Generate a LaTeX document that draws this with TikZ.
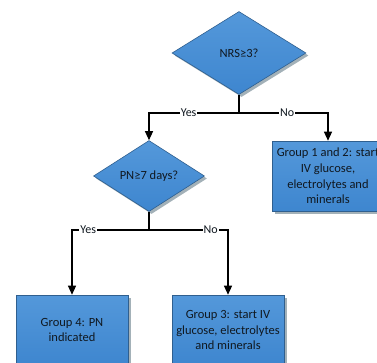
\documentclass[tikz,border=0pt]{standalone}
\usepackage{fontspec}
\setmainfont{Carlito}
\usetikzlibrary{shapes.geometric,arrows.meta,shadows}
\definecolor{boxtop}{HTML}{5498DA}
\definecolor{boxbot}{HTML}{3E86CF}
\definecolor{boxline}{HTML}{2F5F8F}
\definecolor{shad}{HTML}{A3B1B8}
\definecolor{txt}{HTML}{101820}
\tikzset{
  shapebase/.style={draw=boxline, line width=0.6pt, top color=boxtop, bottom color=boxbot,
    drop shadow={shadow xshift=2.5pt, shadow yshift=-2.5pt, fill=shad, opacity=1},
    font=\fontsize{12.5}{15.8}\selectfont, text=txt, inner sep=0pt, align=center},
  decision/.style={shapebase, diamond},
  groupbox/.style={shapebase, rectangle, minimum width=112pt, minimum height=70pt},
  arr/.style={line width=1.2pt, -{Triangle[length=9pt,width=8pt]}},
  conn/.style={line width=1.2pt},
  lbl/.style={fill=white, inner sep=1pt, text=txt, font=\fontsize{12}{13}\selectfont}
}
\begin{document}
\begin{tikzpicture}[x=1pt,y=-1pt]
\useasboundingbox (0,0) rectangle (377,362);
\node[decision, minimum width=134pt, minimum height=83pt] (d1) at (239,53) {NRS≥3?};
\node[decision, minimum width=111pt, minimum height=71pt] (d2) at (149,176) {PN≥7 days?};
\node[groupbox] (g12) at (328,176) {Group 1 and 2: start\\IV glucose,\\electrolytes and\\minerals};
\node[groupbox] (g4) at (72,330) {Group 4: PN\\indicated};
\node[groupbox] (g3) at (228,330) {Group 3: start IV\\glucose, electrolytes\\and minerals};
\coordinate (j1) at (239,113);
\coordinate (j2) at (149,230);
\draw[conn] (d1.south) -- (j1);
\draw[arr] (j1) -- node[lbl, pos=0.56] {Yes} (j1 -| d2.north) -- (d2.north);
\draw[arr] (j1) -- node[lbl, pos=0.54] {No} (j1 -| g12.north) -- (g12.north);
\draw[conn] (d2.south) -- (j2);
\draw[arr] (j2) -- node[lbl, pos=0.79] {Yes} (j2 -| g4.north) -- (g4.north);
\draw[arr] (j2) -- node[lbl, pos=0.78] {No} (j2 -| g3.north) -- (g3.north);
\end{tikzpicture}
\end{document}
